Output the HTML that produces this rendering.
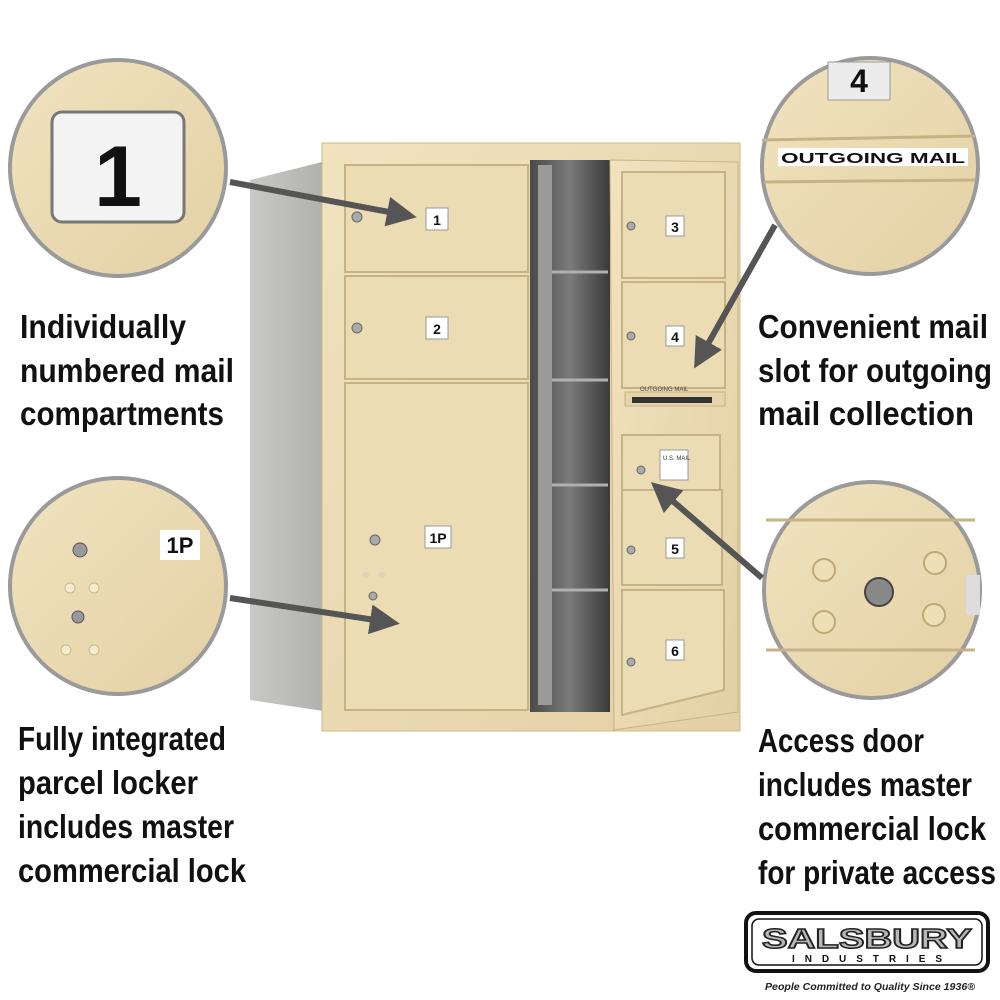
<!DOCTYPE html>
<html><head><meta charset="utf-8"><style>
html,body{margin:0;padding:0;background:#fff;}
svg{display:block;}
text{font-family:"Liberation Sans",Arial,sans-serif;}
</style></head><body>
<svg width="1000" height="1000" viewBox="0 0 1000 1000" xmlns="http://www.w3.org/2000/svg">
<defs>
<linearGradient id="sand" x1="0" y1="0" x2="1" y2="1"><stop offset="0" stop-color="#f1e3c0"/><stop offset="1" stop-color="#e3d0a4"/></linearGradient>
<linearGradient id="side" x1="0" x2="1"><stop offset="0" stop-color="#c9c9c7"/><stop offset="1" stop-color="#aeaeac"/></linearGradient>
<linearGradient id="inner" x1="0" x2="1"><stop offset="0" stop-color="#4a4a4a"/><stop offset="0.5" stop-color="#7a7a7a"/><stop offset="1" stop-color="#3a3a3a"/></linearGradient>
<marker id="ah" markerWidth="5" markerHeight="5" refX="3" refY="2.5" orient="auto"><path d="M0,0 L5,2.5 L0,5 z" fill="#555"/></marker>
</defs>
<rect width="1000" height="1000" fill="#fff"/>

<polygon points="250,180 330,160 330,712 250,700" fill="url(#side)"/>
<rect x="322" y="143" width="418" height="588" fill="url(#sand)" stroke="#cdb98c"/>
<g stroke="#c6b284" stroke-width="2" fill="#ecdcb4">
<rect x="345" y="165" width="183" height="107"/>
<rect x="345" y="276" width="183" height="103"/>
<rect x="345" y="383" width="183" height="327"/>
</g>
<rect x="530" y="160" width="80" height="552" fill="url(#inner)"/>
<g stroke="#b0b0b0" stroke-width="3">
<line x1="552" y1="272" x2="608" y2="272"/><line x1="552" y1="380" x2="608" y2="380"/>
<line x1="552" y1="485" x2="608" y2="485"/><line x1="552" y1="590" x2="608" y2="590"/>
</g>
<rect x="538" y="165" width="14" height="540" fill="#9a9a9a"/>
<polygon points="610,160 738,162 738,712 614,730" fill="url(#sand)" stroke="#c6b284"/>
<g stroke="#c6b284" stroke-width="2" fill="#ecdcb4">
<rect x="622" y="172" width="103" height="106"/>
<rect x="622" y="282" width="103" height="106"/>
<rect x="622" y="435" width="98" height="65"/>
<rect x="622" y="490" width="100" height="95"/>
<polygon points="622,590 724,590 724,690 622,715"/>
</g>
<rect x="625" y="392" width="100" height="14" fill="#e6d4aa" stroke="#c6b284"/>
<rect x="632" y="397" width="80" height="6" fill="#333"/>
<text x="640" y="391" font-size="6" fill="#444">OUTGOING MAIL</text>
<rect x="660" y="450" width="28" height="30" fill="#fff" stroke="#999"/>
<text x="663" y="460" font-size="6" fill="#333">U.S. MAIL</text>
<g fill="#aaa" stroke="#666">
<circle cx="357" cy="217" r="5"/><circle cx="357" cy="328" r="5"/><circle cx="375" cy="540" r="5"/><circle cx="373" cy="596" r="4"/>
<circle cx="631" cy="226" r="4"/><circle cx="631" cy="336" r="4"/><circle cx="641" cy="470" r="4"/><circle cx="631" cy="550" r="4"/><circle cx="631" cy="662" r="4"/>
</g>
<g fill="#ddd3b8"><circle cx="366" cy="575" r="3"/><circle cx="382" cy="575" r="3"/></g>
<g font-size="14" font-weight="bold" text-anchor="middle" fill="#111">
<rect x="426" y="208" width="22" height="22" fill="#fff" stroke="#999"/><text x="437" y="225">1</text>
<rect x="426" y="317" width="22" height="22" fill="#fff" stroke="#999"/><text x="437" y="334">2</text>
<rect x="425" y="526" width="26" height="22" fill="#fff" stroke="#999"/><text x="438" y="543">1P</text>
<rect x="666" y="216" width="18" height="20" fill="#fff" stroke="#999"/><text x="675" y="232">3</text>
<rect x="666" y="326" width="18" height="20" fill="#fff" stroke="#999"/><text x="675" y="342">4</text>
<rect x="666" y="538" width="18" height="20" fill="#fff" stroke="#999"/><text x="675" y="554">5</text>
<rect x="666" y="640" width="18" height="20" fill="#fff" stroke="#999"/><text x="675" y="656">6</text>
</g>

<g stroke="#9a9a9a" stroke-width="4" fill="url(#sand)">
<circle cx="118" cy="168" r="108"/>
<circle cx="118" cy="586" r="108"/>
<circle cx="870" cy="166" r="108"/>
<circle cx="872" cy="590" r="108"/>
</g>
<rect x="52" y="112" width="132" height="110" rx="10" fill="#f3f3f3" stroke="#777" stroke-width="3"/>
<text x="118" y="206" font-size="86" font-weight="bold" text-anchor="middle" fill="#111">1</text>
<rect x="160" y="530" width="40" height="30" fill="#fff"/>
<text x="180" y="553" font-size="22" font-weight="bold" text-anchor="middle" fill="#111">1P</text>
<g fill="#999" stroke="#555"><circle cx="80" cy="550" r="7"/><circle cx="78" cy="617" r="6"/></g>
<g fill="#f5ebcf" stroke="#cbb88c"><circle cx="70" cy="588" r="5"/><circle cx="94" cy="588" r="5"/><circle cx="66" cy="650" r="5"/><circle cx="94" cy="650" r="5"/></g>
<rect x="828" y="62" width="62" height="38" fill="#ececec" stroke="#999"/>
<text x="859" y="92" font-size="32" font-weight="bold" text-anchor="middle" fill="#111">4</text>
<line x1="762" y1="140" x2="975" y2="136" stroke="#c6b284" stroke-width="3"/>
<rect x="778" y="148" width="190" height="18" fill="#fff"/>
<text x="873" y="163" font-size="15" font-weight="bold" text-anchor="middle" fill="#111" textLength="184" lengthAdjust="spacingAndGlyphs">OUTGOING MAIL</text>
<line x1="764" y1="182" x2="975" y2="180" stroke="#c6b284" stroke-width="3"/>
<line x1="766" y1="520" x2="975" y2="520" stroke="#c6b284" stroke-width="3"/>
<line x1="766" y1="650" x2="975" y2="650" stroke="#c6b284" stroke-width="3"/>
<g fill="#efdfb6" stroke="#bfa878" stroke-width="2"><circle cx="824" cy="570" r="11"/><circle cx="935" cy="563" r="11"/><circle cx="824" cy="622" r="11"/><circle cx="934" cy="615" r="11"/></g>
<circle cx="879" cy="592" r="14" fill="#888" stroke="#444" stroke-width="2"/>
<rect x="966" y="575" width="14" height="40" fill="#ddd"/>

<g stroke="#555" stroke-width="6" fill="none" marker-end="url(#ah)">
<line x1="230" y1="182" x2="405" y2="215"/>
<line x1="230" y1="598" x2="388" y2="622"/>
<line x1="775" y1="225" x2="700" y2="358"/>
<line x1="762" y1="578" x2="660" y2="490"/>
</g>

<g font-size="33" font-weight="bold" fill="#111">
<text x="20" y="338" textLength="166" lengthAdjust="spacingAndGlyphs">Individually</text>
<text x="20" y="382" textLength="214" lengthAdjust="spacingAndGlyphs">numbered mail</text>
<text x="20" y="425" textLength="204" lengthAdjust="spacingAndGlyphs">compartments</text>
<text x="758" y="338" textLength="230" lengthAdjust="spacingAndGlyphs">Convenient mail</text>
<text x="758" y="382" textLength="234" lengthAdjust="spacingAndGlyphs">slot for outgoing</text>
<text x="758" y="425" textLength="216" lengthAdjust="spacingAndGlyphs">mail collection</text>
<text x="18" y="750" textLength="208" lengthAdjust="spacingAndGlyphs">Fully integrated</text>
<text x="18" y="794" textLength="180" lengthAdjust="spacingAndGlyphs">parcel locker</text>
<text x="18" y="838" textLength="216" lengthAdjust="spacingAndGlyphs">includes master</text>
<text x="18" y="882" textLength="228" lengthAdjust="spacingAndGlyphs">commercial lock</text>
<text x="758" y="752" textLength="166" lengthAdjust="spacingAndGlyphs">Access door</text>
<text x="758" y="796" textLength="214" lengthAdjust="spacingAndGlyphs">includes master</text>
<text x="758" y="840" textLength="228" lengthAdjust="spacingAndGlyphs">commercial lock</text>
<text x="758" y="884" textLength="238" lengthAdjust="spacingAndGlyphs">for private access</text>
</g>

<rect x="746" y="913" width="242" height="58" rx="10" fill="#fff" stroke="#111" stroke-width="4"/>
<rect x="752" y="919" width="230" height="46" rx="7" fill="#fff" stroke="#111" stroke-width="1.5"/>
<text x="867" y="948" font-size="28" font-weight="bold" text-anchor="middle" fill="#b8b8b8" stroke="#222" stroke-width="1.5" textLength="210" lengthAdjust="spacingAndGlyphs">SALSBURY</text>
<text x="867" y="962" font-size="10" font-weight="bold" text-anchor="middle" fill="#111" textLength="150" lengthAdjust="spacing">INDUSTRIES</text>
<text x="765" y="990" font-size="10" font-style="italic" font-weight="bold" fill="#222" textLength="210" lengthAdjust="spacingAndGlyphs">People Committed to Quality Since 1936®</text>
</svg>
</body></html>
